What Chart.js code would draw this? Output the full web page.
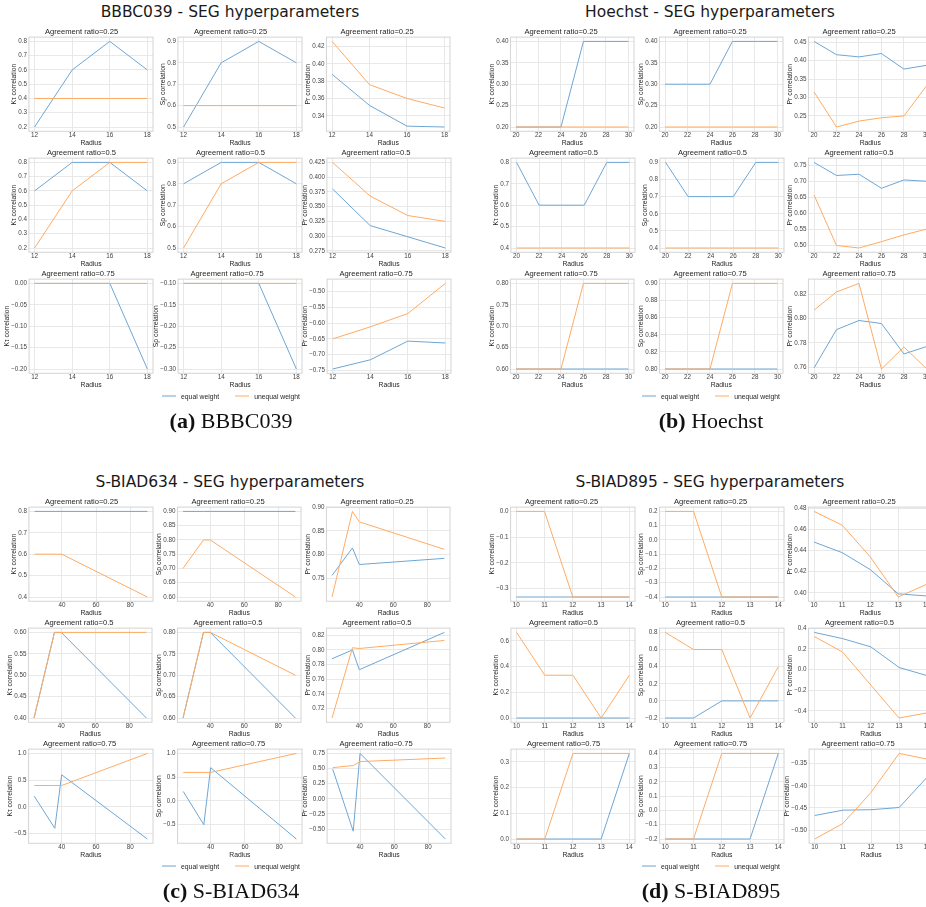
<!DOCTYPE html>
<html>
<head>
<meta charset="utf-8">
<script src="https://cdn.jsdelivr.net/npm/chart.js@4.4.1/dist/chart.umd.min.js"></script>
<style>
  body { margin: 0; width: 926px; height: 907px; overflow: hidden; background: #fff; position: relative; }
  canvas.sub { position: absolute; }
  .ptitle { position: absolute; transform: translate(-50%, -50%); white-space: nowrap;
            font: 15.5px 'DejaVu Sans', sans-serif; color: #1a1a1a; }
  .legend { position: absolute; transform: translate(-50%, -50%); white-space: nowrap;
            font: 6.8px 'Liberation Sans', Arial, sans-serif; color: #262626; display: flex; align-items: center; }
  .legend .sw { display: inline-block; width: 14px; height: 1px; margin-right: 5px; }
  .caption { position: absolute; transform: translate(-50%, -50%); white-space: nowrap;
             font: 22px 'Liberation Serif', 'Times New Roman', serif; color: #111; }
</style>
</head>
<body>
<script>
// ---- data ----
const ratioLabels = ['0.25', '0.5', '0.75'];
const metricLabels = ['Kτ correlation', 'Sρ correlation', 'Pr correlation'];
const seriesLabels = ['equal weight', 'unequal weight'];

// BBBC039
const radiusBBBC = [12, 14, 16, 18];
const bbbcKtEqual   = [[0.2, 0.6, 0.8, 0.6], [0.6, 0.8, 0.8, 0.6], [0, 0, 0, -0.2]];
const bbbcKtUnequal = [[0.4, 0.4, 0.4, 0.4], [0.2, 0.6, 0.8, 0.8], [0, 0, 0, 0]];
const bbbcSpEqual   = [[0.5, 0.8, 0.9, 0.8], [0.8, 0.9, 0.9, 0.8], [-0.1, -0.1, -0.1, -0.3]];
const bbbcSpUnequal = [[0.6, 0.6, 0.6, 0.6], [0.5, 0.8, 0.9, 0.9], [-0.1, -0.1, -0.1, -0.1]];
const bbbcPrEqual   = [[0.388, 0.352, 0.328, 0.327], [0.380, 0.318, 0.299, 0.280], [-0.745, -0.716, -0.657, -0.663]];
const bbbcPrUnequal = [[0.426, 0.376, 0.360, 0.349], [0.425, 0.368, 0.335, 0.325], [-0.650, -0.612, -0.570, -0.475]];
const bbbcYStep = [[0.1, 0.1, 0.02], [0.1, 0.1, 0.025], [0.05, 0.05, 0.05]];

// Hoechst
const radiusHoechst = [20, 22, 24, 26, 28, 30];
const hoeKtEqual   = [[0.2, 0.2, 0.2, 0.4, 0.4, 0.4], [0.8, 0.6, 0.6, 0.6, 0.8, 0.8], [0.6, 0.6, 0.6, 0.6, 0.6, 0.6]];
const hoeKtUnequal = [[0.2, 0.2, 0.2, 0.2, 0.2, 0.2], [0.4, 0.4, 0.4, 0.4, 0.4, 0.4], [0.6, 0.6, 0.6, 0.8, 0.8, 0.8]];
const hoeSpEqual   = [[0.3, 0.3, 0.3, 0.4, 0.4, 0.4], [0.9, 0.7, 0.7, 0.7, 0.9, 0.9], [0.8, 0.8, 0.8, 0.8, 0.8, 0.8]];
const hoeSpUnequal = [[0.2, 0.2, 0.2, 0.2, 0.2, 0.2], [0.4, 0.4, 0.4, 0.4, 0.4, 0.4], [0.8, 0.8, 0.8, 0.9, 0.9, 0.9]];
const hoePrEqual   = [[0.452, 0.416, 0.410, 0.419, 0.377, 0.387], [0.760, 0.719, 0.723, 0.679, 0.705, 0.701], [0.7595, 0.791, 0.7985, 0.796, 0.771, 0.777]];
const hoePrUnequal = [[0.315, 0.220, 0.236, 0.245, 0.250, 0.331], [0.658, 0.500, 0.492, 0.512, 0.533, 0.551], [0.807, 0.822, 0.829, 0.7586, 0.7767, 0.759]];
const hoeYStep = [[0.05, 0.05, 0.05], [0.1, 0.1, 0.05], [0.05, 0.02, 0.02]];

// S-BIAD634
const radiusS634 = [24, 36, 40, 90];
const s634KtEqual   = [[0.8, 0.8, 0.8, 0.8], [0.4, 0.6, 0.6, 0.4], [0.2, -0.4, 0.6, -0.6]];
const s634KtUnequal = [[0.6, 0.6, 0.6, 0.4], [0.4, 0.6, 0.6, 0.6], [0.4, 0.4, 0.4, 1.0]];
const s634SpEqual   = [[0.9, 0.9, 0.9, 0.9], [0.6, 0.8, 0.8, 0.6], [0.2, -0.5, 0.7, -0.8]];
const s634SpUnequal = [[0.7, 0.8, 0.8, 0.6], [0.6, 0.8, 0.8, 0.7], [0.6, 0.6, 0.6, 1.0]];
const s634PrEqual   = [[0.756, 0.814, 0.779, 0.792], [0.788, 0.800, 0.773, 0.824], [0.49, -0.535, 0.75, -0.664]];
const s634PrUnequal = [[0.7105, 0.891, 0.869, 0.811], [0.707, 0.803, 0.802, 0.813], [0.515, 0.55, 0.615, 0.674]];
const s634YStep = [[0.1, 0.05, 0.05], [0.05, 0.05, 0.02], [0.5, 0.5, 0.25]];

// S-BIAD895
const radiusS895 = [10, 11, 12, 13, 14];
const s895KtEqual   = [[-0.333, -0.333, -0.333, -0.333, -0.333], [0, 0, 0, 0, 0], [0, 0, 0, 0, 0.333]];
const s895KtUnequal = [[0, 0, -0.333, -0.333, -0.333], [0.667, 0.333, 0.333, 0, 0.333], [0, 0, 0.333, 0.333, 0.333]];
const s895SpEqual   = [[-0.4, -0.4, -0.4, -0.4, -0.4], [-0.2, -0.2, 0, 0, 0], [-0.2, -0.2, -0.2, -0.2, 0.4]];
const s895SpUnequal = [[0.2, 0.2, -0.4, -0.4, -0.4], [0.8, 0.6, 0.6, -0.2, 0.4], [-0.2, -0.2, 0.4, 0.4, 0.4]];
const s895PrEqual   = [[0.448, 0.438, 0.422, 0.399, 0.397], [0.36, 0.30, 0.22, 0.02, -0.06], [-0.467, -0.455, -0.454, -0.449, -0.38]];
const s895PrUnequal = [[0.477, 0.464, 0.434, 0.396, 0.408], [0.32, 0.17, -0.15, -0.47, -0.42], [-0.52, -0.485, -0.415, -0.327, -0.34]];
const s895YStep = [[0.1, 0.1, 0.02], [0.2, 0.2, 0.2], [0.1, 0.1, 0.05]];

const panels = [
  { name: 'BBBC039', tag: '(a)', ox: 0, oy: 0, tx: 230, radius: radiusBBBC, xStep: 2, yStep: bbbcYStep,
    eq: [bbbcKtEqual, bbbcSpEqual, bbbcPrEqual], uneq: [bbbcKtUnequal, bbbcSpUnequal, bbbcPrUnequal] },
  { name: 'Hoechst', tag: '(b)', ox: 482, oy: 0, tx: 228, radius: radiusHoechst, xStep: 2, yStep: hoeYStep,
    eq: [hoeKtEqual, hoeSpEqual, hoePrEqual], uneq: [hoeKtUnequal, hoeSpUnequal, hoePrUnequal] },
  { name: 'S-BIAD634', tag: '(c)', ox: 0, oy: 470, tx: 230, radius: radiusS634, xStep: 20, yStep: s634YStep,
    eq: [s634KtEqual, s634SpEqual, s634PrEqual], uneq: [s634KtUnequal, s634SpUnequal, s634PrUnequal] },
  { name: 'S-BIAD895', tag: '(d)', ox: 482, oy: 470, tx: 228, radius: radiusS895, xStep: 1, yStep: s895YStep,
    eq: [s895KtEqual, s895SpEqual, s895PrEqual], uneq: [s895KtUnequal, s895SpUnequal, s895PrUnequal] },
];

// ---- layout / style ----
const blue = '#6ea6d4';
const orange = '#ffab62';
const gridColor = '#e8e8e8';
const frameColor = '#d4d4d4';
const FW = 124, FH = 94;
const colLeft = [28.7, 177.7, 326.7];
const rowTop = [37.3, 158.4, 279.6];

Chart.defaults.font.family = "'Liberation Sans', Arial, sans-serif";
Chart.defaults.color = '#262626';

const framePlugin = {
  id: 'frame',
  beforeDatasetsDraw(chart) {
    const a = chart.chartArea, ctx = chart.ctx;
    ctx.save();
    ctx.strokeStyle = frameColor;
    ctx.lineWidth = 1;
    ctx.strokeRect(a.left, a.top, a.right - a.left, a.bottom - a.top);
    ctx.restore();
  }
};

function decimals(step) {
  const s = String(step);
  return s.includes('.') ? s.split('.')[1].length : 0;
}

function fmt(v, dec) {
  const s = Math.abs(v).toFixed(dec);
  return (v < 0 && Number(s) !== 0 ? '\u2212' : '') + s;
}

function stepTicks(min, max, step) {
  const out = [];
  const k0 = Math.ceil(min / step - 1e-9), k1 = Math.floor(max / step + 1e-9);
  for (let k = k0; k <= k1; k++) out.push({ value: +(k * step).toFixed(6) });
  return out;
}

function makeConfig(xs, eq, uneq, xStep, yStep, title, ylab) {
  const all = eq.concat(uneq);
  const ymin = Math.min(...all), ymax = Math.max(...all);
  const ypad = (ymax - ymin) * 0.05;
  const xpad = (xs[xs.length - 1] - xs[0]) * 0.05;
  const dec = decimals(yStep);
  const pts = ys => xs.map((x, i) => ({ x: x, y: ys[i] }));
  return {
    type: 'line',
    data: {
      datasets: [
        { label: seriesLabels[0], data: pts(eq), borderColor: blue, borderWidth: 1, pointRadius: 0, tension: 0, order: 1 },
        { label: seriesLabels[1], data: pts(uneq), borderColor: orange, borderWidth: 1, pointRadius: 0, tension: 0, order: 0 }
      ]
    },
    options: {
      responsive: false,
      maintainAspectRatio: false,
      animation: false,
      events: [],
      layout: { padding: { left: 0, right: 4, top: 0, bottom: 0 } },
      plugins: {
        legend: { display: false },
        tooltip: { enabled: false },
        title: { display: true, text: title, color: '#262626', font: { size: 7.6, weight: 'normal' }, padding: { top: 1, bottom: 1 } }
      },
      scales: {
        x: {
          type: 'linear',
          min: xs[0] - xpad,
          max: xs[xs.length - 1] + xpad,
          grid: { color: gridColor, drawTicks: false },
          border: { display: false },
          ticks: { font: { size: 6.3 }, color: '#444', padding: 0, maxRotation: 0, autoSkip: false, callback: v => String(v) },
          title: { display: true, text: 'Radius', color: '#262626', font: { size: 6.8 }, padding: 0 },
          afterBuildTicks: s => { s.ticks = stepTicks(s.min, s.max, xStep); }
        },
        y: {
          min: ymin - ypad,
          max: ymax + ypad,
          grid: { color: gridColor, drawTicks: false },
          border: { display: false },
          ticks: { font: { size: 6.3 }, color: '#444', padding: 2, autoSkip: false, callback: v => fmt(v, dec) },
          title: { display: true, text: ylab, color: '#262626', font: { size: 6.8 }, padding: 0 },
          afterBuildTicks: s => { s.ticks = stepTicks(s.min, s.max, yStep); },
          afterFit: s => { s.width -= 2; }
        }
      }
    },
    plugins: [framePlugin]
  };
}

function placeChart(args, fx, fy) {
  const canvas = document.createElement('canvas');
  canvas.className = 'sub';
  document.body.appendChild(canvas);
  canvas.width = 220;
  canvas.height = 160;
  let chart = new Chart(canvas, makeConfig(...args));
  const a = chart.chartArea;
  const w = Math.round(a.left + FW + (chart.width - a.right));
  const h = Math.round(a.top + FH + (chart.height - a.bottom));
  chart.destroy();
  canvas.width = w;
  canvas.height = h;
  canvas.style.width = w + 'px';
  canvas.style.height = h + 'px';
  chart = new Chart(canvas, makeConfig(...args));
  const b = chart.chartArea;
  canvas.style.left = (fx - b.left) + 'px';
  canvas.style.top = (fy - b.top) + 'px';
}

function addText(cls, html, x, y) {
  const d = document.createElement('div');
  d.className = cls;
  d.innerHTML = html;
  d.style.left = x + 'px';
  d.style.top = y + 'px';
  document.body.appendChild(d);
}

panels.forEach(p => {
  addText('ptitle', p.name + ' - SEG hyperparameters', p.ox + p.tx, p.oy + 12);
  for (let r = 0; r < 3; r++) {
    for (let c = 0; c < 3; c++) {
      placeChart([p.radius, p.eq[c][r], p.uneq[c][r], p.xStep, p.yStep[r][c],
                  'Agreement ratio=' + ratioLabels[r], metricLabels[c]],
                 p.ox + colLeft[c], p.oy + rowTop[r]);
    }
  }
  addText('legend',
    '<span class="sw" style="background:' + blue + '"></span><span>' + seriesLabels[0] + '</span>' +
    '<span class="sw" style="background:' + orange + ';margin-left:16px"></span><span>' + seriesLabels[1] + '</span>',
    p.ox + p.tx + 1, p.oy + 396);
  addText('caption', '<b>' + p.tag + '</b>&nbsp;' + p.name, p.ox + p.tx + 1, p.oy + 421);
});
</script>
</body>
</html>
